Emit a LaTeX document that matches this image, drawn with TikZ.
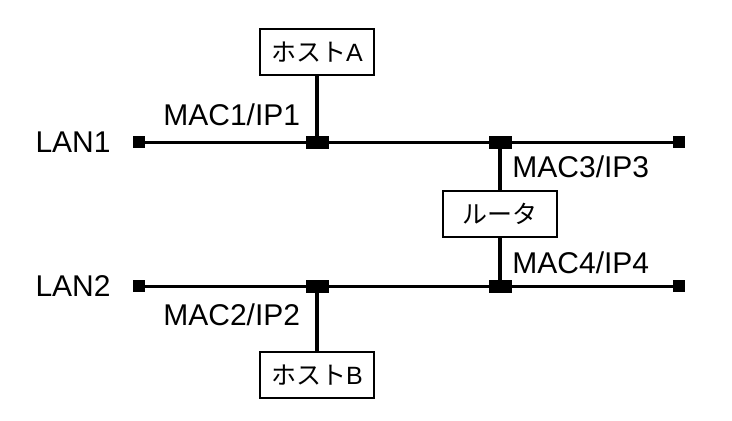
\documentclass[tikz,border=0pt]{standalone}
\usepackage{fontspec}
\setmainfont{Liberation Sans}
\newfontfamily\cjk{Noto Sans CJK JP}
\tikzset{
  devbox/.style={draw,line width=0.8pt,fill=white,minimum width=57pt,minimum height=23pt,inner sep=0pt,font=\fontsize{12.5pt}{15pt}\selectfont},
  endsq/.style={fill=black,minimum width=6pt,minimum height=6pt,inner sep=0pt},
  tap/.style={fill=black,minimum width=11.5pt,minimum height=6.5pt,inner sep=0pt},
  lbl/.style={inner sep=0pt,font=\fontsize{15pt}{18pt}\selectfont},
  lanline/.style={line width=1.5pt},
  drop/.style={line width=2pt}
}
\begin{document}
\begin{tikzpicture}[x=0.5pt,y=-0.5pt]
 \useasboundingbox (0,0) rectangle (732,420);
 % devices
 \node[devbox] (hostA) at (317,52) {{\cjk ホスト}A};
 \node[devbox] (router) at (500,214) {\cjk ルータ};
 \node[devbox] (hostB) at (317,375) {{\cjk ホスト}B};
 % LAN1
 \node[endsq] (l1w) at (139,142) {};
 \node[endsq] (l1e) at (679,142) {};
 \node[tap] (tapA) at (317,142) {};
 \node[tap] (tapR1) at (500,142) {};
 % LAN2
 \node[endsq] (l2w) at (139,286) {};
 \node[endsq] (l2e) at (679,286) {};
 \node[tap] (tapB) at (317,286) {};
 \node[tap] (tapR2) at (500,286) {};
 % wires
 \draw[lanline] (l1w.center) -- (l1e.center);
 \draw[lanline] (l2w.center) -- (l2e.center);
 \draw[drop] (hostA.south) -- (tapA.center);
 \draw[drop] (hostB.north) -- (tapB.center);
 \draw[drop] (tapR1.center) -- (router.north);
 \draw[drop] (router.south) -- (tapR2.center);
 % labels
 \node[lbl,anchor=base east] (lan1) at (111,152) {LAN1};
 \node[lbl,anchor=base east] (lan2) at (111,296) {LAN2};
 \node[lbl,anchor=base west] (ip1) at (163,125) {MAC1/IP1};
 \node[lbl,anchor=base west] (ip3) at (512,177) {MAC3/IP3};
 \node[lbl,anchor=base west] (ip4) at (512,273) {MAC4/IP4};
 \node[lbl,anchor=base west] (ip2) at (163,325) {MAC2/IP2};
\end{tikzpicture}
\end{document}
